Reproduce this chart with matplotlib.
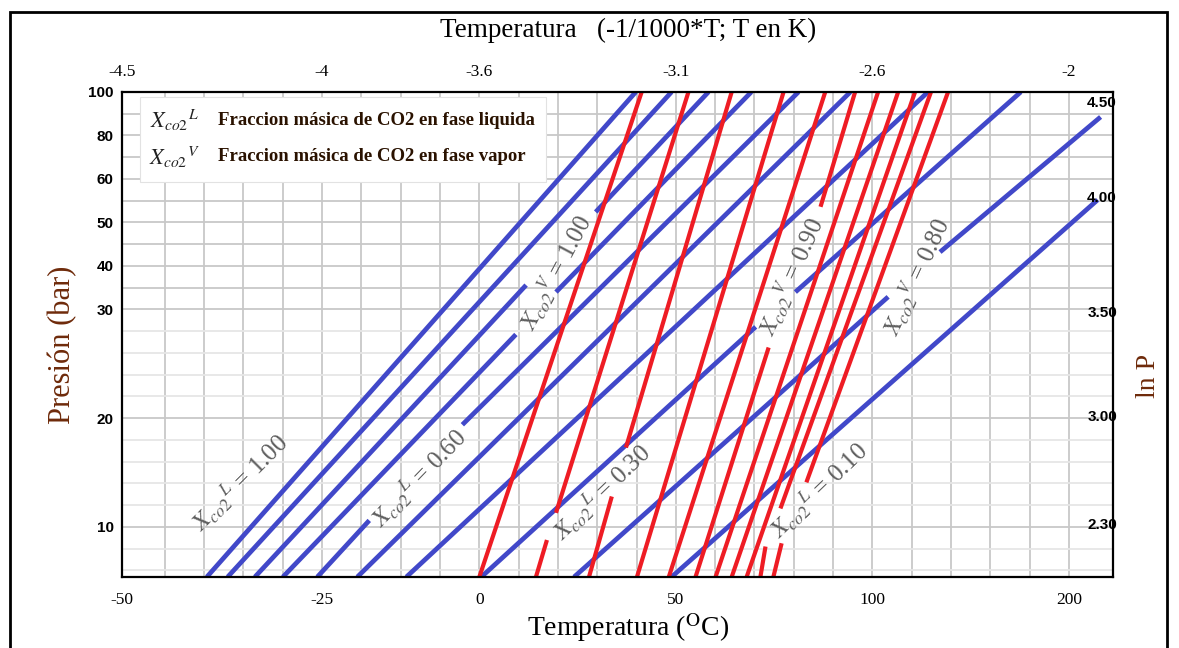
import numpy as np
import matplotlib
matplotlib.use('Agg')
import matplotlib.pyplot as plt
from matplotlib.patches import Rectangle

plt.rcParams['font.family'] = ['Liberation Serif', 'DejaVu Serif']
plt.rcParams['mathtext.fontset'] = 'stix'

# tick labels
temp_ticks = [-50, -25, 0, 50, 100, 200]
inv_temp_labels = ['-4.5', '-4', '-3.6', '-3.1', '-2.6', '-2']
pres_ticks = [100, 80, 60, 50, 40, 30, 20, 10]
lnp_ticks = [2.30, 3.00, 3.50, 4.00, 4.50]
# pressure (left scale) beside which each ln P label is written on the chart
lnp_at_bar = [10.2, 20.1, 29.7, 55.6, 95.0]

# blue isolines (segments T0,P0 -> T1,P1 in degC / bar), gaps left where a label sits
blue_t0 = [-39.4, -36.8, -33.4, 29.6, -29.9, 19.5, -25.6, -2.7, -19.4, -11.6, 0.5, 80.4, 24.1, 134.4, 48.9]
blue_p0 = [5.4, 5.4, 5.4, 52.4, 5.4, 34.0, 5.4, 19.4, 5.4, 5.4, 5.4, 34.0, 5.4, 43.2, 5.4]
blue_t1 = [39.8, 48.9, 11.9, 58.3, 9.3, 69.2, -17.5, 81.2, 94.4, 128.3, 70.3, 175.5, 108.0, 216.1, 214.6]
blue_p1 = [100, 100, 35.6, 100, 27.7, 100, 10.6, 100, 100, 100, 28.4, 100, 32.9, 88.5, 55.2]

# red lines
red_t0 = [0.0, 14.4, 19.5, 27.9, 37.3, 40.1, 48.2, 55.0, 86.8, 60.1, 64.2, 68.0, 71.5, 76.6, 74.8, 83.2]
red_p0 = [5.4, 5.4, 11.3, 5.4, 17.3, 5.4, 5.4, 5.4, 53.6, 5.4, 5.4, 5.4, 5.4, 11.7, 5.4, 14.1]
red_t1 = [41.3, 17.2, 53.2, 33.7, 64.2, 77.4, 88.0, 73.6, 95.6, 102.9, 113.1, 121.7, 72.8, 129.8, 76.9, 138.5]
red_p1 = [100, 8.8, 100, 12.8, 100, 100, 100, 26.5, 100, 100, 100, 100, 8.2, 100, 8.5, 100]

# isoline labels: phase, value
iso_phase = ['L', 'L', 'L', 'L', 'V', 'V', 'V']
iso_value = ['1.00', '0.60', '0.30', '0.10', '1.00', '0.90', '0.80']
iso_t = [-35.3, -9.6, 31.2, 86.5, 19.5, 79.4, 122.2]
iso_p = [14.1, 14.5, 13.2, 13.4, 38.4, 37.5, 37.5]
iso_rot = [45, 46, 44, 44, 62, 66, 65]

# the grid of this chart is hand made: temperatures and pressures sit on
# an even grid but their spacing is neither linear nor log, so map piecewise
T_ANCHOR = [-60, -50, -25, 0, 50, 100, 200, 250]
T_GRID = [-3.13, -1.09, 4, 8, 13, 18, 23, 25.5]
P_ANCHOR = [4, 10, 20, 30, 40, 50, 60, 80, 100, 120]
P_GRID = [-23, -20, -15, -10, -8, -6, -4, -2, 0, 2]


def t_fwd(t):
    return np.interp(t, T_ANCHOR, T_GRID)


def t_inv(g):
    return np.interp(g, T_GRID, T_ANCHOR)


def p_fwd(p):
    return np.interp(p, P_ANCHOR, P_GRID)


def p_inv(g):
    return np.interp(g, P_GRID, P_ANCHOR)


BLUE = '#4148c9'
RED = '#ee1c24'
GRAY_TXT = '#5e5e5e'
BROWN = '#6e2a0a'

fig = plt.figure(figsize=(11.79, 6.48), dpi=100)
ax = fig.add_axes([0.1035, 0.1096, 0.8405, 0.7485])
ax.set_xscale('function', functions=(t_fwd, t_inv))
ax.set_yscale('function', functions=(p_fwd, p_inv))
ax.set_xlim(-50, 222.4)
ax.set_ylim(5.4, 100)

# grid
for g in range(0, 24):
    ax.axvline(t_inv(g), color='#c8c8c8', lw=1.3, zorder=0)
for r in range(1, 23):
    c = '#c8c8c8' if r <= 10 or r in (15, 20) else '#e6e6e6'
    ax.axhline(p_inv(-r), color=c, lw=1.3, zorder=0)

# legend box
ax.add_patch(Rectangle((0.018, 0.815), 0.41, 0.175, transform=ax.transAxes,
                       facecolor='white', edgecolor='#e2e2e2', lw=0.8, zorder=1))
ax.text(0.053, 0.942, r'$X_{co2}{}^{L}$', transform=ax.transAxes, fontsize=16,
        ha='center', va='center', color='#222222', zorder=2)
ax.text(0.053, 0.866, r'$X_{co2}{}^{V}$', transform=ax.transAxes, fontsize=16,
        ha='center', va='center', color='#222222', zorder=2)
ax.text(0.097, 0.942, 'Fraccion másica de CO2 en fase liquida', transform=ax.transAxes,
        fontsize=13.5, fontweight='bold', ha='left', va='center', color='#2a1200', zorder=2)
ax.text(0.097, 0.866, 'Fraccion másica de CO2 en fase vapor', transform=ax.transAxes,
        fontsize=13.5, fontweight='bold', ha='left', va='center', color='#2a1200', zorder=2)

for t0, p0, t1, p1 in zip(blue_t0, blue_p0, blue_t1, blue_p1):
    ax.plot([t0, t1], [p0, p1], color=BLUE, lw=3.4, solid_capstyle='butt', zorder=3)
for t0, p0, t1, p1 in zip(red_t0, red_p0, red_t1, red_p1):
    ax.plot([t0, t1], [p0, p1], color=RED, lw=3.0, solid_capstyle='butt', zorder=4)

for ph, val, t, p, rot in zip(iso_phase, iso_value, iso_t, iso_p, iso_rot):
    ax.text(t, p, r'$X_{co2}{}^{%s}$ = %s' % (ph, val), rotation=rot, rotation_mode='anchor',
            ha='center', va='center', fontsize=18, color=GRAY_TXT, zorder=5)

# axes, ticks
for s in ax.spines.values():
    s.set_linewidth(1.6)
    s.set_zorder(6)
ax.set_xticks(temp_ticks, labels=[str(t) for t in temp_ticks], fontsize=12.5)
ax.set_yticks(pres_ticks, labels=[str(p) for p in pres_ticks], fontsize=11,
              fontfamily='Liberation Sans', fontweight='bold')
ax.minorticks_off()
ax.tick_params(axis='x', length=0, pad=11)
ax.tick_params(axis='y', length=0, pad=6)

for t, lab in zip(temp_ticks, inv_temp_labels):
    ax.text(t, 1.042, lab, transform=ax.get_xaxis_transform(), ha='center', va='center',
            fontsize=12.5)
for v, p in zip(lnp_ticks, lnp_at_bar):
    ax.text(1.004, p, '%.2f' % v, transform=ax.get_yaxis_transform(), ha='right',
            va='center', fontsize=11, fontfamily='Liberation Sans', fontweight='bold', zorder=7)

fig.text(0.533, 0.953, 'Temperatura   (-1/1000*T; T en K)', ha='center', va='center', fontsize=19.5)
fig.text(0.533, 0.031, r'Temperatura ($^{\mathrm{O}}$C)', ha='center', va='center', fontsize=20)
fig.text(0.053, 0.468, 'Presión (bar)', rotation=90, ha='center', va='center', fontsize=22,
         color=BROWN)
fig.text(0.974, 0.42, 'ln P', rotation=90, ha='center', va='center', fontsize=20, color=BROWN)

fig.add_artist(Rectangle((0.0085, -0.05), 0.9813, 0.0315 + 1.0, transform=fig.transFigure,
                         fill=False, edgecolor='black', lw=2))

plt.savefig('out.png', dpi=100)
